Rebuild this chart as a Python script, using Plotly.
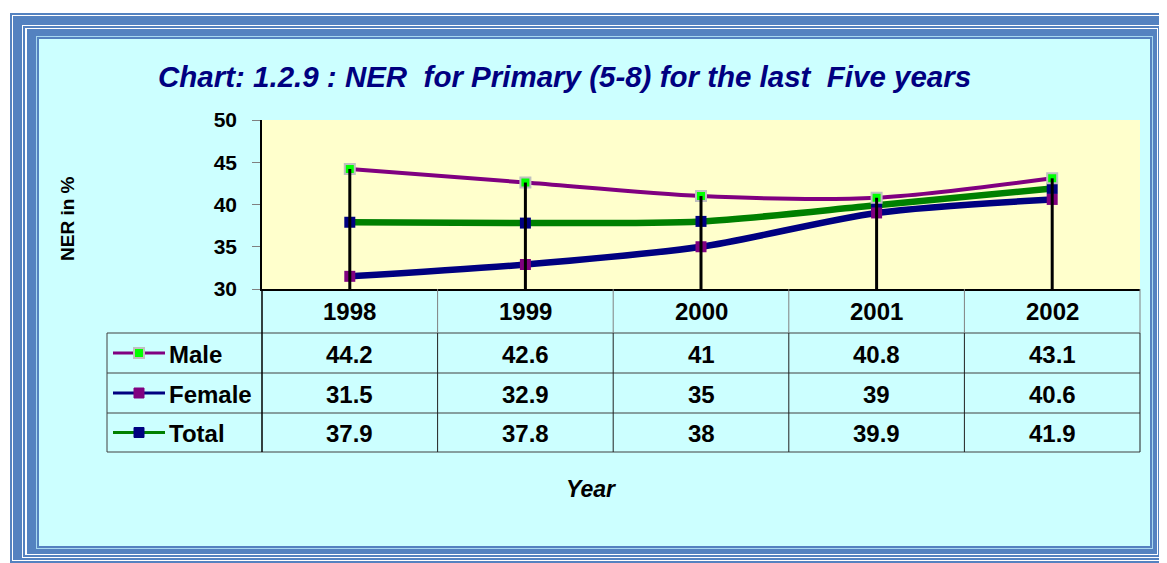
import plotly.graph_objects as go

# ---------------- data ----------------
years = ["1998", "1999", "2000", "2001", "2002"]
male = [44.2, 42.6, 41, 40.8, 43.1]
female = [31.5, 32.9, 35, 39, 40.6]
total = [37.9, 37.8, 38, 39.9, 41.9]
series_names = ["Male", "Female", "Total"]

title = "Chart: 1.2.9 : NER\u00a0 for Primary (5-8) for the last\u00a0 Five years"
y_title = "NER in %"
x_title = "Year"

# ---------------- layout constants (pixels of the 1167x563 view) ----------------
OFF = 8  # page body margin
W, H = 1167 - OFF, 563 - OFF
PL, PR, PT, PB = 262, 1140, 120, 289  # plot area in view pixels
FONT = "Arial, Liberation Sans, sans-serif"

def fx(px):
    return (px - PL) / (PR - PL)

def fy(py):
    return (PB - py) / (PB - PT)

xs = list(range(len(years)))
line_cols = {"Male": "#800080", "Female": "#000080", "Total": "#008000"}
line_w = {"Male": 4, "Female": 6.5, "Total": 6.5}
mk_cols = {"Male": "#00FF00", "Female": "#800080", "Total": "#000080"}
mk_line = {"Male": ("#C0C0C0", 2), "Female": ("#800080", 0), "Total": ("#000080", 0)}
mk_size = {"Male": 10, "Female": 11, "Total": 11}
data = {"Male": male, "Female": female, "Total": total}

fig = go.Figure()

for name in ["Total", "Female", "Male"]:
    fig.add_trace(go.Scatter(
        x=xs, y=data[name], mode="lines+markers", name=name,
        line=dict(color=line_cols[name], width=line_w[name], shape="spline", smoothing=0.8),
        marker=dict(symbol="square", size=mk_size[name], color=mk_cols[name],
                    line=dict(color=mk_line[name][0], width=mk_line[name][1])),
        showlegend=False, cliponaxis=False,
    ))

# drop lines from highest value down to the axis
dx, dy = [], []
for i in xs:
    top = max(male[i], female[i], total[i])
    dx += [i, i, None]
    dy += [top, 30, None]
fig.add_trace(go.Scatter(x=dx, y=dy, mode="lines", line=dict(color="black", width=3),
                         showlegend=False, hoverinfo="skip"))

shapes = []

def rect(x0, y0, x1, y1, fill, layer="below"):
    shapes.append(dict(type="rect", xref="paper", yref="paper",
                       x0=fx(x0), x1=fx(x1), y0=fy(y1), y1=fy(y0),
                       fillcolor=fill, layer=layer, line=dict(width=0)))

BLUE = "#5482C0"
frame = [
    ((10, 13, 1166, 563), BLUE),
    ((12, 15, 1164, 561), "white"),
    ((13, 16, 1163, 560), BLUE),
    ((22, 25, 1161, 558), "white"),
    ((23, 26, 1160, 557), BLUE),
    ((25, 28, 1158, 555), "white"),
    ((27, 29, 1157, 554), BLUE),
    ((36, 36, 1153, 549), "#A8D8F0"),
    ((37, 37, 1152, 548), BLUE),
    ((39, 39, 1150, 546), "#CCFFFF"),
]
for (a, b, c, d), col in frame:
    rect(a, b, c, d, col)
# plot area background
rect(PL, PT, PR, PB, "#FFFFCC")

def hline(x0, x1, y, color="#404040", width=1):
    shapes.append(dict(type="line", xref="paper", yref="paper", x0=fx(x0), x1=fx(x1),
                       y0=fy(y), y1=fy(y), line=dict(color=color, width=width), layer="above"))

def vline(x, y0, y1, color="#202020", width=1):
    shapes.append(dict(type="line", xref="paper", yref="paper", x0=fx(x), x1=fx(x),
                       y0=fy(y0), y1=fy(y1), line=dict(color=color, width=width), layer="above"))

# data table grid
TL = 107
row_edges = [289, 333, 373, 413, 452]
cw = (PR - PL) / len(years)
for y in row_edges[1:]:
    hline(TL, PR, y)
vline(TL, 333, 452, "#404040")
vline(PL, 289, 452, "black", 1.5)
for k in range(1, len(years) + 1):
    xk = PL + k * cw
    vline(xk, 289, 333, "#808080")
    vline(xk, 333, 452, "#202020")

annotations = []

def text(px, py, s, size=24, xanchor="center", color="black", angle=0):
    annotations.append(dict(xref="paper", yref="paper", x=fx(px), y=fy(py), text=s,
                            showarrow=False, xanchor=xanchor, yanchor="middle",
                            font=dict(family=FONT, size=size, color=color), textangle=angle))

# header (years) and values
for i, yr in enumerate(years):
    cx = PL + (i + 0.5) * cw
    text(cx, 311, f"<b>{yr}</b>")
    for r, name in enumerate(series_names):
        cy = (row_edges[r + 1] + row_edges[r + 2]) / 2
        text(cx, cy + 1, f"<b>{data[name][i]:g}</b>")

# legend keys in the table
for r, name in enumerate(series_names):
    cy = (row_edges[r + 1] + row_edges[r + 2]) / 2
    hline(113, 165, cy, line_cols[name], 3)
    ms = 5
    lc, lw = mk_line[name]
    shapes.append(dict(type="rect", xref="paper", yref="paper",
                       x0=fx(139 - ms), x1=fx(139 + ms), y0=fy(cy + ms), y1=fy(cy - ms),
                       fillcolor=mk_cols[name], layer="above",
                       line=dict(color=lc if lw else mk_cols[name], width=lw if lw else 1)))
    text(167, cy + 1, f"<b>{name}</b>", xanchor="left")

# titles
text(564, 76, f"<b><i>{title}</i></b>", size=29.5, color="#000080")
text(591, 489, f"<b><i>{x_title}</i></b>", size=23)
text(67, 219, f"<b>{y_title}</b>", size=19, angle=-90)

fig.update_layout(
    width=W, height=H,
    margin=dict(l=PL - OFF, r=W - (PR - OFF), t=PT - OFF, b=H - (PB - OFF), pad=0),
    paper_bgcolor="white", plot_bgcolor="rgba(0,0,0,0)",
    shapes=shapes, annotations=annotations,
    showlegend=False,
    xaxis=dict(range=[-0.5, len(years) - 0.5], showticklabels=False, showgrid=False,
               zeroline=False, showline=True, linecolor="black", linewidth=1.5, ticks=""),
    yaxis=dict(range=[30, 50], dtick=5, showgrid=False, zeroline=False, showline=True,
               linecolor="black", linewidth=1.5, ticks="outside", ticklen=8, tickcolor="#808080",
               tickwidth=1, ticklabelstandoff=11,
               tickfont=dict(family=FONT, size=21, color="black", weight="bold")),
)

fig.write_html("out.html")
